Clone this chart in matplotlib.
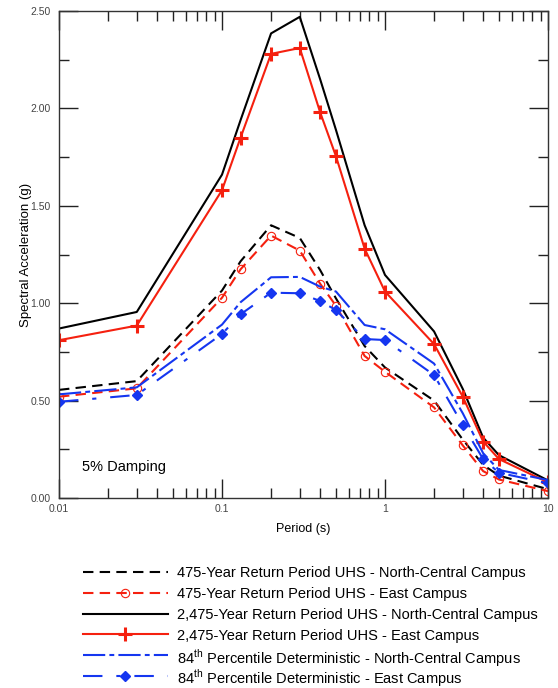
import matplotlib
matplotlib.use('Agg')
import matplotlib.pyplot as plt
from matplotlib.lines import Line2D
from matplotlib.ticker import FixedLocator, FixedFormatter, MultipleLocator, LogLocator, NullFormatter

plt.rcParams['font.family'] = ['Liberation Sans', 'DejaVu Sans']
plt.rcParams['mathtext.fontset'] = 'custom'
plt.rcParams['mathtext.rm'] = 'Liberation Sans'
plt.rcParams['lines.scale_dashes'] = False

# spectral periods (s)
periods = [0.01, 0.03, 0.1, 0.13, 0.2, 0.3, 0.4, 0.5, 0.75, 1, 2, 3, 4, 5, 10]

# spectral accelerations (g)
uhs475_nc = [0.555, 0.60, 1.065, 1.215, 1.40, 1.335, 1.17, 1.025, 0.78, 0.67, 0.50, 0.30, 0.17, 0.115, 0.045]
uhs475_east = [0.52, 0.563, 1.028, 1.174, 1.347, 1.27, 1.10, 0.987, 0.729, 0.648, 0.465, 0.27, 0.138, 0.095, 0.035]
uhs2475_nc = [0.87, 0.955, 1.66, 1.94, 2.385, 2.47, 2.15, 1.89, 1.40, 1.145, 0.855, 0.56, 0.31, 0.22, 0.09]
uhs2475_east = [0.81, 0.885, 1.58, 1.85, 2.28, 2.31, 1.98, 1.755, 1.28, 1.06, 0.79, 0.52, 0.29, 0.20, 0.08]
det84_nc = [0.532, 0.568, 0.89, 1.005, 1.133, 1.135, 1.085, 1.06, 0.888, 0.866, 0.69, 0.435, 0.23, 0.144, 0.092]
det84_east = [0.494, 0.529, 0.842, 0.943, 1.054, 1.051, 1.011, 0.965, 0.816, 0.811, 0.631, 0.375, 0.20, 0.13, 0.075]

labels = ['475-Year Return Period UHS - North-Central Campus',
          '475-Year Return Period UHS - East Campus',
          '2,475-Year Return Period UHS - North-Central Campus',
          '2,475-Year Return Period UHS - East Campus',
          r'84$^{\mathrm{th}}$ Percentile Deterministic - North-Central Campus',
          r'84$^{\mathrm{th}}$ Percentile Deterministic - East Campus']

RED = '#f5200f'
BLUE = '#1536f0'
lw = 1.5

# one style per series, same order as labels
styles = [
    dict(color='black', lw=lw, dashes=(7.5, 4.5)),
    dict(color=RED, lw=lw, dashes=(7.5, 4.5), marker='o', ms=6, mfc='none', mec=RED, mew=0.8),
    dict(color='black', lw=lw),
    dict(color=RED, lw=lw, marker='+', ms=9.5, mew=2.2),
    dict(color=BLUE, lw=lw, dashes=(16, 3, 3.5, 3)),
    dict(color=BLUE, lw=lw, dashes=(14, 10, 3, 10), marker='D', ms=5.5, mfc=BLUE, mec=BLUE),
]
series = [uhs475_nc, uhs475_east, uhs2475_nc, uhs2475_east, det84_nc, det84_east]

W, H = 558, 688
fig = plt.figure(figsize=(W / 100, H / 100), dpi=100)
ax = fig.add_axes([59 / W, 1 - 498 / H, (548 - 59) / W, (498 - 11) / H])

for vals, st, lab in zip(series, styles, labels):
    ax.plot(periods, vals, label=lab, **st)

ax.set_xscale('log')
ax.set_xlim(0.01, 10)
ax.set_ylim(0, 2.5)

ax.xaxis.set_major_locator(FixedLocator([0.01, 0.1, 1, 10]))
ax.xaxis.set_major_formatter(FixedFormatter(['0.01', '0.1', '1', '10']))
ax.xaxis.set_minor_locator(LogLocator(base=10, subs=range(2, 10)))
ax.xaxis.set_minor_formatter(NullFormatter())
ax.yaxis.set_major_locator(MultipleLocator(0.5))
ax.yaxis.set_minor_locator(MultipleLocator(0.25))
ax.yaxis.set_major_formatter(plt.FormatStrFormatter('%.2f'))

ax.tick_params(which='both', direction='in', top=True, right=True, color='#222222', width=1)
ax.tick_params(which='major', length=13.5, labelsize=7.5, labelcolor='#444444')
ax.tick_params(which='minor', length=7)
ax.tick_params(axis='y', which='major', pad=6)
ax.tick_params(axis='x', which='major', pad=4)
for s in ax.spines.values():
    s.set_color('#333333')
    s.set_linewidth(1)

ax.set_xlabel('Period (s)', fontsize=9, labelpad=7)
ax.set_ylabel('Spectral Acceleration (g)', fontsize=9.5, labelpad=-1)

ax.text(0.048, 0.063, '5% Damping', transform=ax.transAxes, fontsize=10.5,
        ha='left', va='center')

# legend below the plot, drawn row by row so the superscript rows keep the spacing
x0, x1, xt = 83 / W, 168 / W, 177 / W
for i, (st, lab) in enumerate(zip(styles, labels)):
    y = 1 - (572 + 20.8 * i) / H
    line_st = {k: v for k, v in st.items() if k not in ('marker', 'ms', 'mfc', 'mec', 'mew')}
    fig.add_artist(Line2D([x0, x1], [y, y], transform=fig.transFigure, **line_st))
    if 'marker' in st:
        fig.add_artist(Line2D([(x0 + x1) / 2], [y], transform=fig.transFigure, ls='none',
                              marker=st['marker'], ms=st['ms'], mfc=st.get('mfc', st['color']),
                              mec=st.get('mec', st['color']), mew=st.get('mew', 1),
                              color=st['color']))
    fig.text(xt, y, lab, fontsize=10.5, ha='left', va='center_baseline')

fig.savefig('out.png', dpi=100)
